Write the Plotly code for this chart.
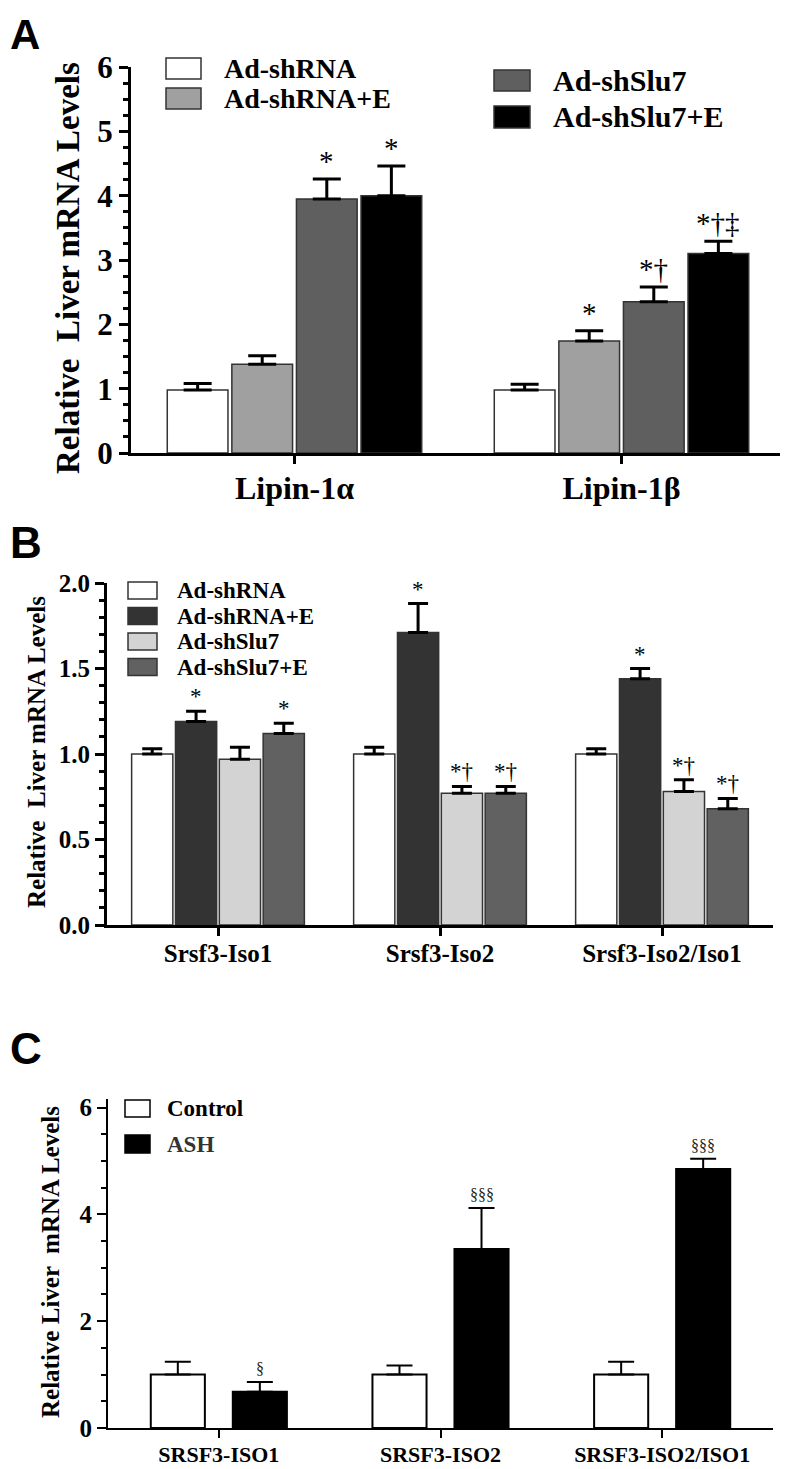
import plotly.graph_objects as go

# page keeps an 8px body margin, so the figure is a bit smaller than the window
PAGE_W, PAGE_H, PAD = 788, 1469, 8
W, H = PAGE_W - PAD, PAGE_H - PAD

# ---------------- data ----------------
# panel A
cats_A = ["Lipin-1α", "Lipin-1β"]
names_A = ["Ad-shRNA", "Ad-shRNA+E", "Ad-shSlu7", "Ad-shSlu7+E"]
colors_A = ["#ffffff", "#a0a0a0", "#5f5f5f", "#000000"]
A_shRNA = [0.98, 0.98]
A_shRNA_E = [1.38, 1.74]
A_shSlu7 = [3.95, 2.35]
A_shSlu7_E = [4.00, 3.10]
A_err_shRNA = [0.10, 0.09]
A_err_shRNA_E = [0.13, 0.16]
A_err_shSlu7 = [0.31, 0.23]
A_err_shSlu7_E = [0.46, 0.19]
A_sig = [["", ""], ["", "*"], ["*", "*†"], ["*", "*†‡"]]

# panel B
cats_B = ["Srsf3-Iso1", "Srsf3-Iso2", "Srsf3-Iso2/Iso1"]
names_B = ["Ad-shRNA", "Ad-shRNA+E", "Ad-shSlu7", "Ad-shSlu7+E"]
colors_B = ["#ffffff", "#333333", "#d3d3d3", "#616161"]
B_shRNA = [1.00, 1.00, 1.00]
B_shRNA_E = [1.19, 1.71, 1.44]
B_shSlu7 = [0.97, 0.77, 0.78]
B_shSlu7_E = [1.12, 0.77, 0.68]
B_err_shRNA = [0.03, 0.04, 0.03]
B_err_shRNA_E = [0.06, 0.17, 0.06]
B_err_shSlu7 = [0.07, 0.04, 0.07]
B_err_shSlu7_E = [0.06, 0.04, 0.06]
B_sig = [["", "", ""], ["*", "*", "*"], ["", "*†", "*†"], ["*", "*†", "*†"]]

# panel C
cats_C = ["SRSF3-ISO1", "SRSF3-ISO2", "SRSF3-ISO2/ISO1"]
names_C = ["Control", "ASH"]
colors_C = ["#ffffff", "#000000"]
C_control = [1.00, 1.00, 1.00]
C_ash = [0.68, 3.35, 4.85]
C_err_control = [0.24, 0.17, 0.24]
C_err_ash = [0.18, 0.77, 0.19]
C_sig = [["", "", ""], ["§", "§§§", "§§§"]]


def px(x):
    return (x - PAD) / W


def py(y):
    return 1 - (y - PAD) / H


SERIF = "Liberation Serif"
BARGAP = 0.21
GROUPGAP = 0.06

fig = go.Figure()
annotations = []
shapes = []

panels = [
    dict(ax="", cats=cats_A, names=names_A, colors=colors_A,
         vals=[A_shRNA, A_shRNA_E, A_shSlu7, A_shSlu7_E],
         errs=[A_err_shRNA, A_err_shRNA_E, A_err_shSlu7, A_err_shSlu7_E],
         sig=A_sig, ethick=3, ewidth=14, lw=1.5, sigsize=29),
    dict(ax="2", cats=cats_B, names=names_B, colors=colors_B,
         vals=[B_shRNA, B_shRNA_E, B_shSlu7, B_shSlu7_E],
         errs=[B_err_shRNA, B_err_shRNA_E, B_err_shSlu7, B_err_shSlu7_E],
         sig=B_sig, ethick=3, ewidth=10, lw=1.5, sigsize=23),
]

for p in panels:
    n = len(p["names"])
    slot = (1 - BARGAP) / n
    for j in range(n):
        fig.add_trace(go.Bar(
            x=p["cats"], y=p["vals"][j], name=p["names"][j],
            xaxis="x" + p["ax"], yaxis="y" + p["ax"],
            marker=dict(color=p["colors"][j], line=dict(color="#333333", width=p["lw"])),
            error_y=dict(type="data", array=p["errs"][j], arrayminus=[0] * len(p["cats"]),
                         symmetric=False, color="black", thickness=p["ethick"], width=p["ewidth"]),
            showlegend=False,
        ))
        off = -(1 - BARGAP) / 2 + (j + 0.5) * slot
        for i, s in enumerate(p["sig"][j]):
            if s:
                annotations.append(dict(
                    x=i + off, y=p["vals"][j][i] + p["errs"][j][i],
                    xref="x" + p["ax"], yref="y" + p["ax"], text=s, showarrow=False,
                    yanchor="bottom", yshift=0,
                    font=dict(family=SERIF, size=p["sigsize"], color="black")))

# panel C: two bars per group with a wider gap
c_width = 0.244
c_offsets = [-0.307, 0.063]
for j, (vals, errs) in enumerate([(C_control, C_err_control), (C_ash, C_err_ash)]):
    fig.add_trace(go.Bar(
        x=cats_C, y=vals, name=names_C[j], xaxis="x3", yaxis="y3",
        width=c_width, offset=c_offsets[j],
        marker=dict(color=colors_C[j], line=dict(color="black", width=2)),
        error_y=dict(type="data", array=errs, arrayminus=[0] * 3, symmetric=False,
                     color="black", thickness=2, width=13),
        showlegend=False,
    ))
    for i, s in enumerate(C_sig[j]):
        if s:
            annotations.append(dict(
                x=i + c_offsets[j] + c_width / 2, y=vals[i] + errs[i],
                xref="x3", yref="y3", text=s, showarrow=False, yanchor="bottom", yshift=3,
                font=dict(family=SERIF, size=16, color="#222222")))


def xaxis(dom, anchor, lw, size, standoff):
    return dict(domain=dom, anchor=anchor, showline=True, linecolor="black", linewidth=lw,
                ticks="outside", ticklen=8, tickwidth=lw, tickcolor="black",
                showgrid=False, zeroline=False, automargin=False, ticklabelstandoff=standoff,
                tickfont=dict(family=SERIF, size=size, color="black", weight="bold"))


def yaxis(dom, anchor, lw, rng, dtick, minor, size, fmt):
    return dict(domain=dom, anchor=anchor, range=rng, showline=True, linecolor="black",
                linewidth=lw, ticks="outside", ticklen=9, tickwidth=lw, tickcolor="black",
                dtick=dtick, tick0=0, tickformat=fmt, showgrid=False, zeroline=False,
                automargin=False,
                minor=dict(ticks="outside", ticklen=5, tickwidth=lw, tickcolor="black", dtick=minor),
                tickfont=dict(family=SERIF, size=size, color="black", weight="bold"))


fig.update_layout(
    width=W, height=H, margin=dict(l=0, r=0, t=0, b=0),
    paper_bgcolor="white", plot_bgcolor="white",
    barmode="group", bargap=BARGAP, bargroupgap=GROUPGAP, showlegend=False,
    xaxis=xaxis([px(131), px(785)], "y", 3, 32, -3),
    yaxis=yaxis([py(453), py(67)], "x", 3, [0, 6], 1, 0.25, 31, "d"),
    xaxis2=xaxis([px(107), px(773)], "y2", 3, 25, -4),
    yaxis2=yaxis([py(925), py(583)], "x2", 3, [0, 2], 0.5, 0.1, 25, ".1f"),
    xaxis3=xaxis([px(108), px(773)], "y3", 2, 22, -2),
    yaxis3=yaxis([py(1428), py(1099)], "x3", 2, [0, 6.16], 2, 0.5, 25, "d"),
)


def label(text, x, y, size, family=SERIF, angle=0, xanchor="center", color="black", weight="bold"):
    annotations.append(dict(text=text, x=px(x), y=py(y), xref="paper", yref="paper",
                            showarrow=False, xanchor=xanchor, yanchor="middle", textangle=angle,
                            font=dict(family=family, size=size, color=color, weight=weight)))


# panel letters
label("A", 8, 34, 42, family="Liberation Sans", xanchor="left")
label("B", 8, 542, 44, family="Liberation Sans", xanchor="left")
label("C", 8, 1048, 44, family="Liberation Sans", xanchor="left")

# axis titles
label("Relative  Liver mRNA Levels", 68, 268, 33, angle=-90)
label("Relative  Liver mRNA Levels", 36, 752, 25, angle=-90)
label("Relative Liver  mRNA Levels", 50, 1262, 25, angle=-90)


# legends
def legend_item(name, color, bx0, bx1, by0, by1, tx, size, edge="#333333", tcolor="black"):
    shapes.append(dict(type="rect", xref="paper", yref="paper",
                       x0=px(bx0), x1=px(bx1), y0=py(by1), y1=py(by0),
                       fillcolor=color, line=dict(color=edge, width=1.5)))
    label(name, tx, (by0 + by1) / 2, size, xanchor="left", color=tcolor)


legend_item(names_A[0], colors_A[0], 166, 201, 58, 79, 222, 28)
legend_item(names_A[1], colors_A[1], 166, 201, 88, 109, 222, 28)
legend_item(names_A[2], colors_A[2], 494, 530, 70, 91, 551, 30)
legend_item(names_A[3], colors_A[3], 494, 530, 106, 128, 551, 30)

for j, (y0, y1) in enumerate([(582, 599), (607.5, 624.5), (633, 650), (658.5, 675.5)]):
    legend_item(names_B[j], colors_B[j], 128, 157, y0, y1, 175, 23)

legend_item(names_C[0], colors_C[0], 125, 150, 1100, 1117, 165, 23, edge="black")
legend_item(names_C[1], colors_C[1], 125, 150, 1135, 1153, 165, 23, edge="black", tcolor="#333333")

fig.update_layout(annotations=annotations, shapes=shapes)

fig.write_html("out.html")
